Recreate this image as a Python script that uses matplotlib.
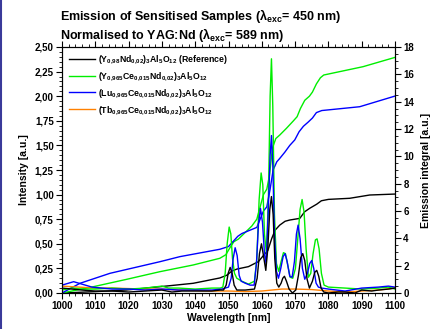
import matplotlib
matplotlib.use("Agg")
import matplotlib.pyplot as plt
from matplotlib.ticker import MultipleLocator, FuncFormatter
from matplotlib.lines import Line2D

plt.rcParams['font.family'] = ['Liberation Sans', 'DejaVu Sans']
plt.rcParams['font.weight'] = 'bold'
plt.rcParams['mathtext.fontset'] = 'custom'
plt.rcParams['mathtext.rm'] = 'Liberation Sans:bold'
plt.rcParams['mathtext.bf'] = 'Liberation Sans:bold'
plt.rcParams['mathtext.it'] = 'Liberation Sans:bold'
plt.rcParams['mathtext.default'] = 'bf'

# ---------------- data ----------------
# Intensity spectra (left axis)
wl_black = [1000, 1003, 1006, 1010, 1015, 1020, 1025, 1030, 1033, 1036, 1040, 1045, 1047.5,
            1048.5, 1049.3, 1049.9, 1050.5, 1051.1, 1051.7, 1052.5, 1055, 1057.8,
            1058.6, 1059.3, 1059.9, 1060.5, 1061.2, 1061.8, 1062.4, 1062.9, 1063.4, 1063.9,
            1064.5, 1065.1, 1065.8, 1066.3, 1066.8, 1067.4, 1068.2, 1069.2, 1070.2, 1071.0,
            1071.7, 1072.3, 1072.9, 1073.6, 1074.3, 1075.2, 1075.9, 1076.5, 1077.1, 1077.8,
            1078.6, 1080, 1083, 1085, 1088, 1090, 1093, 1095, 1098, 1100]
int_black = [0.05, 0.04, 0.03, 0.02, 0.02, 0.01, 0.02, 0.03, 0.01, 0.02, 0.02, 0.02, 0.03,
             0.03, 0.08, 0.20, 0.26, 0.20, 0.08, 0.03, 0.03, 0.04,
             0.15, 0.40, 0.50, 0.38, 0.23, 0.45, 0.85, 0.98, 0.80, 0.35,
             0.10, 0.06, 0.10, 0.15, 0.17, 0.12, 0.04, 0.00, 0.03, 0.18,
             0.36, 0.40, 0.33, 0.14, 0.05, 0.12, 0.21, 0.23, 0.17, 0.05,
             0.01, 0.00, 0.01, 0.01, 0.00, 0.03, 0.02, 0.03, 0.04, 0.05]

wl_green = [1000, 1003, 1006, 1010, 1015, 1020, 1025, 1030, 1032, 1035, 1040, 1045, 1047.5,
            1048.3, 1049.0, 1049.6, 1050.2, 1050.7, 1051.2, 1051.8, 1052.5, 1054, 1056, 1057.8,
            1058.5, 1059.2, 1059.8, 1060.3, 1060.8, 1061.4, 1062.0, 1062.5, 1062.9, 1063.3,
            1063.8, 1064.4, 1065.1, 1065.8, 1066.5, 1067.1, 1067.7, 1068.5, 1069.3, 1070.1,
            1070.8, 1071.5, 1072.1, 1072.7, 1073.3, 1074.0, 1074.7, 1075.4, 1076.1, 1076.6,
            1077.2, 1077.9, 1078.7, 1080, 1085, 1090, 1095, 1098, 1100]
int_green = [0.03, 0.05, 0.04, 0.04, 0.05, 0.04, 0.05, 0.07, 0.05, 0.05, 0.04, 0.05, 0.05,
             0.06, 0.20, 0.50, 0.67, 0.60, 0.35, 0.20, 0.15, 0.12, 0.09, 0.12,
             0.35, 0.95, 1.22, 1.10, 0.60, 0.40, 1.00, 2.00, 2.38, 1.90,
             0.80, 0.30, 0.22, 0.32, 0.41, 0.40, 0.30, 0.16, 0.15, 0.25,
             0.55, 0.85, 0.95, 0.82, 0.45, 0.16, 0.20, 0.40, 0.54, 0.55,
             0.45, 0.20, 0.08, 0.06, 0.05, 0.04, 0.05, 0.06, 0.04]

wl_blue = [1000, 1002, 1003.5, 1005, 1007, 1009, 1012, 1015, 1020, 1025, 1030, 1035, 1040,
           1045, 1048, 1050.0, 1050.8, 1051.4, 1052.0, 1052.6, 1053.2, 1053.8, 1055, 1056.5,
           1057.7, 1058.4, 1059.0, 1059.6, 1060.2, 1060.8, 1061.3, 1061.9, 1062.5, 1062.9,
           1063.3, 1063.8, 1064.4, 1065.0, 1065.7, 1066.4, 1067.0, 1067.6, 1068.4, 1069.1,
           1069.8, 1070.4, 1070.9, 1071.5, 1072.2, 1072.9, 1073.7, 1074.4, 1075.0, 1075.6,
           1076.3, 1077.0, 1078, 1080, 1085, 1090, 1095, 1098, 1100]
int_blue = [0.08, 0.10, 0.115, 0.10, 0.08, 0.06, 0.05, 0.04, 0.04, 0.03, 0.04, 0.03, 0.03,
            0.03, 0.04, 0.06, 0.15, 0.35, 0.46, 0.38, 0.18, 0.12, 0.10, 0.08,
            0.08, 0.30, 0.70, 0.86, 0.72, 0.40, 0.30, 0.80, 1.40, 1.60,
            1.30, 0.60, 0.22, 0.15, 0.25, 0.37, 0.40, 0.32, 0.17, 0.16,
            0.32, 0.60, 0.69, 0.55, 0.25, 0.14, 0.20, 0.30, 0.33, 0.25,
            0.10, 0.06, 0.05, 0.04, 0.02, 0.05, 0.06, 0.07, 0.06]

wl_orange = [1000, 1005, 1010, 1015, 1020, 1025, 1030, 1035, 1040, 1045, 1050, 1055, 1060,
             1063, 1066, 1070, 1075, 1080, 1085, 1090, 1095, 1100]
int_orange = [0.07, 0.06, 0.05, 0.05, 0.045, 0.04, 0.04, 0.03, 0.025, 0.02, 0.02, 0.015, 0.02,
              0.03, 0.04, 0.04, 0.035, 0.02, 0.01, 0.02, 0.03, 0.05]

# Emission integrals (right axis)
wl_int_black = [1000, 1010, 1019.4, 1029.4, 1039.4, 1047.4, 1049.5, 1051, 1052.5, 1056, 1059,
                1060.5, 1061.8, 1063, 1064, 1065.4, 1067, 1068.4, 1071.4, 1072.9, 1074.4,
                1076.5, 1077.9, 1080, 1086.4, 1092.4, 1100]
integ_black = [0, 0.1, 0.22, 0.46, 0.71, 1.1, 1.3, 1.6, 1.75, 1.93, 2.3,
               2.75, 3.1, 4.0, 4.6, 4.97, 5.25, 5.34, 5.46, 5.95, 6.2,
               6.5, 6.75, 6.85, 6.93, 7.17, 7.24]

wl_int_green = [1000, 1009.4, 1019.4, 1029.4, 1039.4, 1047.4, 1049.2, 1050.4, 1051.6, 1053,
                1057, 1058.5, 1059.5, 1060.5, 1061.5, 1062.3, 1063.2, 1064.2, 1065.4, 1067.4,
                1069.5, 1070.6, 1071.6, 1072.9, 1074.3, 1075.2, 1076.4, 1077.6, 1078.6,
                1090.4, 1100]
integ_green = [0, 0.46, 1.0, 1.56, 2.05, 2.54, 2.8, 3.3, 3.75, 3.95,
               4.9, 5.4, 6.3, 7.2, 7.6, 8.6, 10.6, 11.3, 11.56, 12.05,
               12.6, 12.9, 13.5, 14.1, 14.4, 14.7, 15.3, 15.75, 15.95,
               16.56, 17.24]

wl_int_blue = [1000, 1005.4, 1014.4, 1029.4, 1035.4, 1047.4, 1050, 1051.5, 1052.8, 1054,
               1058.5, 1059.5, 1060.5, 1061.5, 1062.5, 1063.4, 1064.5, 1065.4, 1066.9,
               1068.4, 1069.9, 1071.2, 1072.5, 1073.9, 1075.2, 1076.4, 1078, 1089.4, 1100]
integ_blue = [0, 0.71, 1.44, 2.29, 2.66, 3.2, 3.4, 3.8, 4.15, 4.35,
              4.8, 5.4, 6.0, 6.3, 7.6, 9.0, 9.6, 9.85, 10.3,
              10.8, 11.2, 11.8, 12.2, 12.5, 12.8, 13.2, 13.35, 13.63, 14.41]

labels = [r"(Y$_{0{,}98}$Nd$_{0{,}02}$)$_{3}$Al$_{5}$O$_{12}$ (Reference)",
          r"(Y$_{0{,}965}$Ce$_{0{,}015}$Nd$_{0{,}02}$)$_{3}$Al$_{5}$O$_{12}$",
          r"(Lu$_{0{,}965}$Ce$_{0{,}015}$Nd$_{0{,}02}$)$_{3}$Al$_{5}$O$_{12}$",
          r"(Tb$_{0{,}965}$Ce$_{0{,}015}$Nd$_{0{,}02}$)$_{3}$Al$_{5}$O$_{12}$"]
colors = ["#000000", "#00ee00", "#0000ff", "#ff8000"]

# ---------------- figure ----------------
fig = plt.figure(figsize=(4.33, 3.29), dpi=100)
ax = fig.add_axes([62/433, 1-293/329, (395-62)/433, (293-47)/329])
ax2 = ax.twinx()

lw = 1.0
ax2.plot(wl_int_black, integ_black, color=colors[0], lw=lw)
ax2.plot(wl_int_green, integ_green, color=colors[1], lw=lw)
ax2.plot(wl_int_blue, integ_blue, color=colors[2], lw=lw)

ax.plot(wl_orange, int_orange, color=colors[3], lw=lw)
ax.plot(wl_green, int_green, color=colors[1], lw=lw)
ax.plot(wl_blue, int_blue, color=colors[2], lw=lw)
ax.plot(wl_black, int_black, color=colors[0], lw=lw)
ax.set_zorder(ax2.get_zorder() + 1)
ax.patch.set_visible(False)

ax.set_xlim(1000, 1100)
ax.set_ylim(0, 2.5)
ax2.set_ylim(0, 18)

fs = 7
ax.xaxis.set_major_locator(MultipleLocator(10))
ax.xaxis.set_minor_locator(MultipleLocator(2))
ax.yaxis.set_major_locator(MultipleLocator(0.25))
ax.yaxis.set_minor_locator(MultipleLocator(0.05))
ax2.yaxis.set_major_locator(MultipleLocator(2))
ax2.yaxis.set_minor_locator(MultipleLocator(0.5))
ax.yaxis.set_major_formatter(FuncFormatter(lambda v, p: f"{v:.2f}".replace('.', ',')))

ax.tick_params(axis='both', which='major', direction='out', length=4, width=0.8,
               labelsize=fs, pad=2)
ax.tick_params(axis='both', which='minor', direction='out', length=2, width=0.6)
ax.tick_params(axis='x', which='both', top=True)
ax2.tick_params(axis='y', which='major', direction='out', length=4, width=0.8,
                labelsize=fs, pad=2)
ax2.tick_params(axis='y', which='minor', direction='out', length=2, width=0.6)
for a in (ax, ax2):
    for s in a.spines.values():
        s.set_linewidth(0.8)
for lab in ax.get_xticklabels() + ax.get_yticklabels() + ax2.get_yticklabels():
    lab.set_fontweight('bold')

ax.set_xlabel("Wavelength [nm]", fontsize=fs + 0.5, fontweight='bold', labelpad=1)
ax.set_ylabel("Intensity [a.u.]", fontsize=fs + 0.5, fontweight='bold', labelpad=4)
ax2.set_ylabel("Emission integral [a.u.]", fontsize=fs + 0.5, fontweight='bold', labelpad=5)

handles = [Line2D([], [], color=c, lw=lw) for c in colors]
ax.legend(handles, labels, loc='upper left', bbox_to_anchor=(0.0, 1.0), frameon=False,
          fontsize=6.3, handlelength=3.0, handletextpad=0.4, labelspacing=0.45,
          borderaxespad=0.35)

fig.text(60/433, 1-16/329, r"Emission of Sensitised Samples ($\lambda_{exc}$= 450 nm)",
         fontsize=9, fontweight='bold', ha='left', va='center')
fig.text(60/433, 1-35/329, r"Normalised to YAG:Nd ($\lambda_{exc}$= 589 nm)",
         fontsize=9, fontweight='bold', ha='left', va='center')

# image border
fig.add_artist(Line2D([0.002, 0.002], [0, 1], transform=fig.transFigure, color="#3a3a9a", lw=1.5))

fig.savefig("out.png", dpi=100)
